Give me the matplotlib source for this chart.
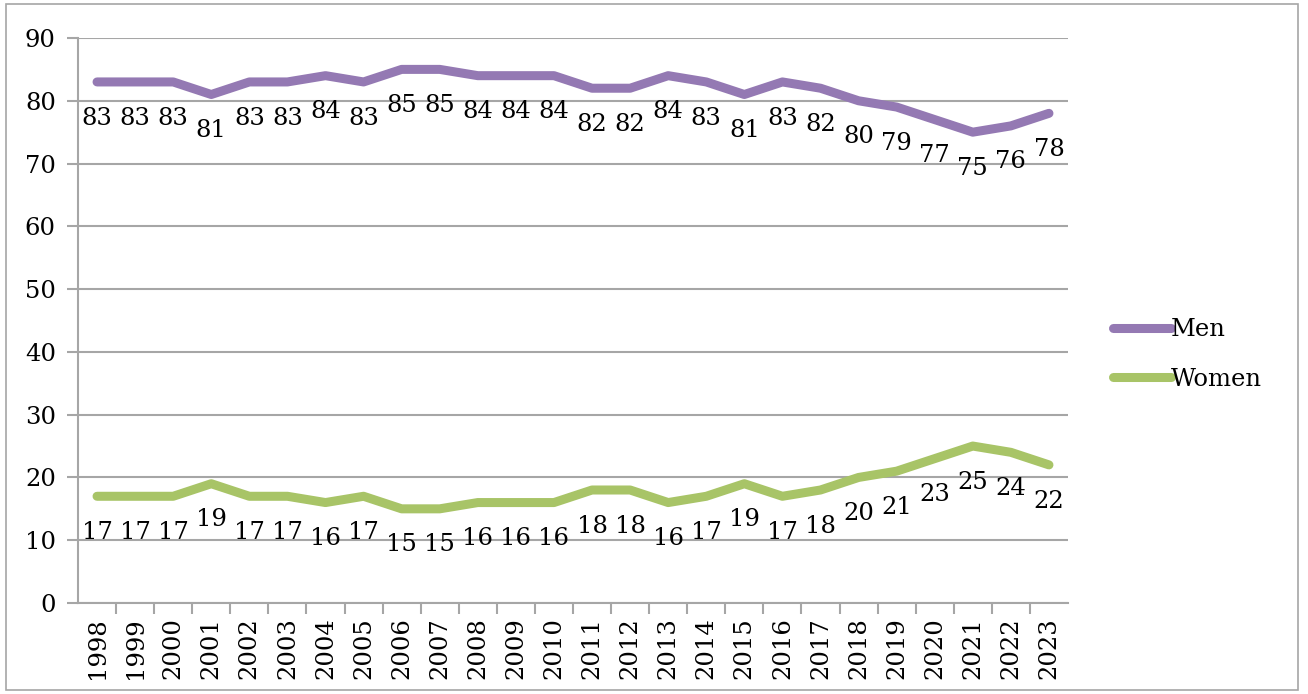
import numpy as np
import matplotlib.pyplot as plt
from matplotlib.patches import Rectangle

years = [str(y) for y in range(1998, 2024)]
men = [83, 83, 83, 81, 83, 83, 84, 83, 85, 85, 84, 84, 84, 82, 82, 84, 83, 81, 83, 82, 80, 79, 77, 75, 76, 78]
women = [17, 17, 17, 19, 17, 17, 16, 17, 15, 15, 16, 16, 16, 18, 18, 16, 17, 19, 17, 18, 20, 21, 23, 25, 24, 22]

plt.rcParams['font.family'] = ['DejaVu Serif']
grid_col = '#a6a6a6'
fs = 17.5

fig = plt.figure(figsize=(13.08, 6.94), dpi=100)
ax = fig.add_axes([78 / 1308, 91 / 694, 990 / 1308, 565 / 694])

# outer chart border
fig.patches.append(Rectangle((6 / 1308, 4 / 694), 1292 / 1308, 686 / 694,
                             transform=fig.transFigure, fill=False,
                             edgecolor='#a6a6a6', linewidth=1.2))

x = np.arange(len(years))
ax.plot(x, men, color='#9479b3', lw=6.5, solid_capstyle='round', label='Men')
ax.plot(x, women, color='#a8c467', lw=6.5, solid_capstyle='round', label='Women')

for xi, v in zip(x, men):
    ax.annotate(str(v), (xi, v), xytext=(0, -26), textcoords='offset points',
                ha='center', va='center', fontsize=fs)
for xi, v in zip(x, women):
    ax.annotate(str(v), (xi, v), xytext=(0, -26), textcoords='offset points',
                ha='center', va='center', fontsize=fs)

ax.set_xlim(-0.5, len(years) - 0.5)
ax.set_ylim(0, 90)
ax.set_yticks(range(0, 91, 10))
ax.set_xticks(x)
ax.set_xticklabels(years, rotation=90, fontsize=fs)
ax.set_xticks(np.arange(0.5, len(years) - 0.5), minor=True)
ax.tick_params(axis='x', which='major', length=0, pad=10)
ax.tick_params(axis='x', which='minor', length=8, color=grid_col, width=1.5)
ax.tick_params(axis='y', length=8, color=grid_col, width=1.5, labelsize=fs, pad=8)
ax.grid(axis='y', color=grid_col, lw=1.5)
ax.set_axisbelow(True)
for s in ['top', 'right']:
    ax.spines[s].set_visible(False)
for s in ['left', 'bottom']:
    ax.spines[s].set_color(grid_col)
    ax.spines[s].set_linewidth(1.5)

ax.legend(loc='center left', bbox_to_anchor=(1.045, 0.44), frameon=False,
          fontsize=fs, handlelength=2.4, handletextpad=0.0, labelspacing=1.1,
          borderpad=0, borderaxespad=0)

fig.savefig('out.png', dpi=100)
